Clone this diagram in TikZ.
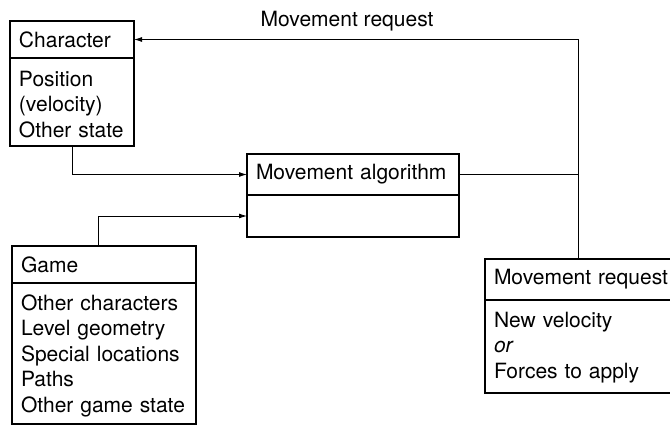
\documentclass[tikz,border=0pt]{standalone}
\usepackage{fontspec}
\setmainfont{TeX Gyre Heros}
\usetikzlibrary{positioning,arrows.meta}

\tikzset{
  boxhead/.style={draw, line width=1.3pt, outer sep=0pt, inner xsep=9pt, inner ysep=0pt, anchor=north west, align=left},
  boxbody/.style={boxhead, anchor=north, text height=15pt},
  link/.style={line width=0.9pt},
  feed/.style={link, -{Latex[length=8pt,width=5pt]}}
}

\begin{document}
\begin{tikzpicture}[x=1pt, y=-1pt, font=\fontsize{21}{25.5}\selectfont]
\useasboundingbox (0,0) rectangle (670,426);

\def\xa{10}
\def\xb{12}
\def\xc{247}
\def\xd{485}

\def\ya{21}
\def\yb{154}
\def\yc{246}
\def\yd{259}

\node[boxhead, text width=106pt, minimum height=37pt] (char) at (\xa, \ya) {Character};
\node[boxbody, text width=106pt, minimum height=88pt, text depth=47pt, below=0pt of char] (charb) {Position\\(velocity)\\Other state};

\node[boxhead, text width=194pt, minimum height=41pt] (alg) at (\xc, \yb) {Movement algorithm};
\node[boxbody, text width=194pt, minimum height=42pt, text height=0pt, text depth=0pt, below=0pt of alg] (algb) {};

\node[boxhead, text width=166pt, minimum height=37pt] (game) at (\xb, \yc) {Game};
\node[boxbody, text width=166pt, minimum height=141pt, text depth=102pt, below=0pt of game] (gameb) {Other characters\\Level geometry\\Special locations\\Paths\\Other game state};

\node[boxhead, text width=182pt, minimum height=41pt] (req) at (\xd, \yd) {Movement request};
\node[boxbody, text width=182pt, minimum height=93pt, text depth=54pt, below=0pt of req] (reqb) {New velocity\\\textit{or}\\Forces to apply};

\coordinate (up) at ([xshift=-7pt]req.north);
\coordinate (gs) at ([xshift=-6pt]game.north);

\draw[feed] (up) |- node[pos=0.76, above=5pt] {Movement request} (char.east);
\draw[link] (alg.east) -- (alg.east -| up);
\draw[feed] (charb.south) |- (alg.west);
\draw[feed] (gs) |- (algb.west);

\end{tikzpicture}
\end{document}
